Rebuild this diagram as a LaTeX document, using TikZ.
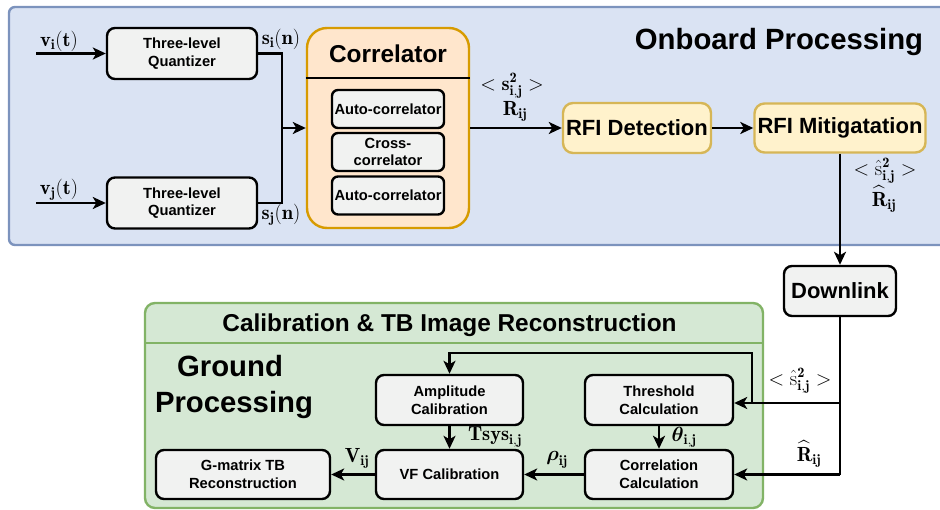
\RequirePackage{fix-cm}
\documentclass[tikz,border=0pt]{standalone}
\usepackage{amsmath}
\usepackage{fontspec}
\newfontfamily\hv{Liberation Sans}
\usetikzlibrary{arrows.meta}

\definecolor{panelBlue}{HTML}{DAE3F3}
\definecolor{panelBlueLine}{HTML}{7C93BD}
\definecolor{panelGreen}{HTML}{D5E8D4}
\definecolor{panelGreenLine}{HTML}{82B366}
\definecolor{corrFill}{HTML}{FFE6CC}
\definecolor{corrLine}{HTML}{D79B00}
\definecolor{rfiFill}{HTML}{FFF2CC}
\definecolor{rfiLine}{HTML}{D6B656}
\definecolor{boxGray}{HTML}{F1F2F1}

\tikzset{
  graybox/.style={draw=black, line width=2.4pt, fill=boxGray, rounded corners=8pt,
    align=center, inner sep=0pt,
    font=\hv\bfseries\fontsize{14.7}{17.6}\selectfont},
  rfibox/.style={draw=rfiLine, line width=2.4pt, fill=rfiFill, rounded corners=10pt,
    align=center, inner sep=0pt,
    font=\hv\bfseries\fontsize{22}{26}\selectfont},
  conn/.style={line width=2.4pt, -{Stealth[length=13pt,width=12pt,inset=3.5pt]}},
  wire/.style={line width=2.4pt},
  mathlbl/.style={inner sep=0pt, font=\fontsize{20.5}{24}\selectfont},
  paneltitle/.style={inner sep=0pt, anchor=base, font=\hv\bfseries\fontsize{29.3}{35}\selectfont},
}

\begin{document}
\begin{tikzpicture}[x=1pt, y=-1pt]
\useasboundingbox (0,0) rectangle (940,510);
\begin{scope}
\clip (0,0) rectangle (940,510);

% ---------- onboard panel ----------
\draw[line width=2.4pt, draw=panelBlueLine, fill=panelBlue, rounded corners=6pt]
  (9,7) rectangle (960,245);
\node[paneltitle] (obtitle) at (779,50) {Onboard Processing};

% quantizers
\node[graybox, minimum width=150pt, minimum height=51pt] (q1) at (182,53.5) {Three-level\\Quantizer};
\node[graybox, minimum width=150pt, minimum height=51pt] (q2) at (182,203) {Three-level\\Quantizer};

\coordinate (vi) at (36,53.5);
\coordinate (vj) at (36,203);
\draw[conn] (vi) -- (q1.west);
\draw[conn] (vj) -- (q2.west);
\node[mathlbl] (lvi) at (59,41) {$\mathbf{v_i(t)}$};
\node[mathlbl] (lvj) at (59,190) {$\mathbf{v_j(t)}$};

% correlator block
\node[draw=corrLine, line width=2.4pt, fill=corrFill, rounded corners=20pt,
      minimum width=162pt, minimum height=200pt, inner sep=0pt] (corr) at (388,128) {};
\draw[line width=2.4pt] (corr.west |- 0,78) -- (corr.east |- 0,78);
\node[inner sep=0pt, anchor=base, font=\hv\bfseries\fontsize{24.4}{29}\selectfont] (corrtitle) at (388,63) {Correlator};
\node[graybox, minimum width=112pt, minimum height=38pt, rounded corners=6pt] (ac1) at (388,109) {Auto-correlator};
\node[graybox, minimum width=112pt, minimum height=38pt, rounded corners=6pt] (xc) at (388,152) {Cross-\\correlator};
\node[graybox, minimum width=112pt, minimum height=38pt, rounded corners=6pt] (ac2) at (388,195.5) {Auto-correlator};

% quantizer outputs joined into the correlator
\coordinate (jn) at (282,128);
\draw[wire] (q1.east) -| (jn) |- (q2.east);
\draw[conn] (jn) -- (corr.west);
\node[mathlbl] (lsi) at (281,39) {$\mathbf{s_i(n)}$};
\node[mathlbl] (lsj) at (281,215) {$\mathbf{s_j(n)}$};

% RFI stages
\node[rfibox, minimum width=148pt, minimum height=50pt] (det) at (637,128) {RFI Detection};
\node[rfibox, minimum width=171pt, minimum height=49pt] (mit) at (840,128) {RFI Mitigatation};
\draw[conn] (corr.east) -- (det.west);
\node[mathlbl] (ls2) at (512,86) {$<\mathbf{s^2_{i,j}}>$};
\node[mathlbl] (lr) at (515,111) {$\mathbf{R_{ij}}$};
\draw[conn] (det.east) -- (mit.west);

% downlink
\node[graybox, minimum width=112pt, minimum height=50pt, font=\hv\bfseries\fontsize{22}{26}\selectfont] (down) at (840,291) {Downlink};
\draw[conn] (mit.south) -- (down.north);
\node[mathlbl] (lsh1) at (885,171) {$<\hat{\mathrm{s}}^{\mathbf{2}}_{\mathbf{i,j}}>$};
\node[mathlbl] (lrh1) at (884,199) {$\widehat{\mathbf{R}}_{\mathbf{ij}}$};

% ---------- ground panel ----------
\draw[line width=2.4pt, draw=panelGreenLine, fill=panelGreen, rounded corners=10pt]
  (145,303) rectangle (763,508);
\draw[line width=2.4pt, draw=panelGreenLine] (145,343) -- (763,343);
\node[inner sep=0pt, anchor=base, font=\hv\bfseries\fontsize{24.4}{29}\selectfont] (gtitle) at (449.5,332) {Calibration \& TB Image Reconstruction};
\node[paneltitle] (gp1) at (230,377) {Ground};
\node[paneltitle] (gp2) at (234,413) {Processing};

\node[graybox, minimum width=147pt, minimum height=50pt] (amp) at (449.5,400) {Amplitude\\Calibration};
\node[graybox, minimum width=147pt, minimum height=49pt] (vf) at (449.5,474.5) {VF Calibration};
\node[graybox, minimum width=174pt, minimum height=49pt] (gm) at (243,474.5) {G-matrix TB\\Reconstruction};
\node[graybox, minimum width=148pt, minimum height=50pt] (thr) at (659,400) {Threshold\\Calculation};
\node[graybox, minimum width=148pt, minimum height=49pt] (cor) at (659,474.5) {Correlation\\Calculation};

% downlink feeds
\coordinate (b1) at (840,403);
\coordinate (b2) at (840,474.5);
\coordinate (lp) at (752,403);
\coordinate (lptop) at (752,353);
\draw[wire] (down.south) -- (b2);
\draw[conn] (b1) -- (b1 -| thr.east);
\draw[conn] (b2) -- (cor.east);
\draw[conn] (lp) -- (lptop) -| (amp.north);
\node[mathlbl] (lsh2) at (800,381) {$<\hat{\mathrm{s}}^{\mathbf{2}}_{\mathbf{i,j}}>$};
\node[mathlbl] (lrh2) at (809,454) {$\widehat{\mathbf{R}}_{\mathbf{ij}}$};

% calibration chain
\draw[conn] (thr.south) -- (cor.north);
\node[mathlbl] (lth) at (684,437) {$\boldsymbol{\theta}_{\mathbf{i,j}}$};
\draw[conn] (amp.south) -- (vf.north);
\node[mathlbl] (lts) at (495,437) {$\mathbf{Tsys_{i,j}}$};
\draw[conn] (cor.west) -- (vf.east);
\node[mathlbl] (lrho) at (557,460) {$\boldsymbol{\rho}_{\mathbf{ij}}$};
\draw[conn] (vf.west) -- (gm.east);
\node[mathlbl] (lv) at (357,458) {$\mathbf{V_{ij}}$};
\end{scope}
\end{tikzpicture}
\end{document}
